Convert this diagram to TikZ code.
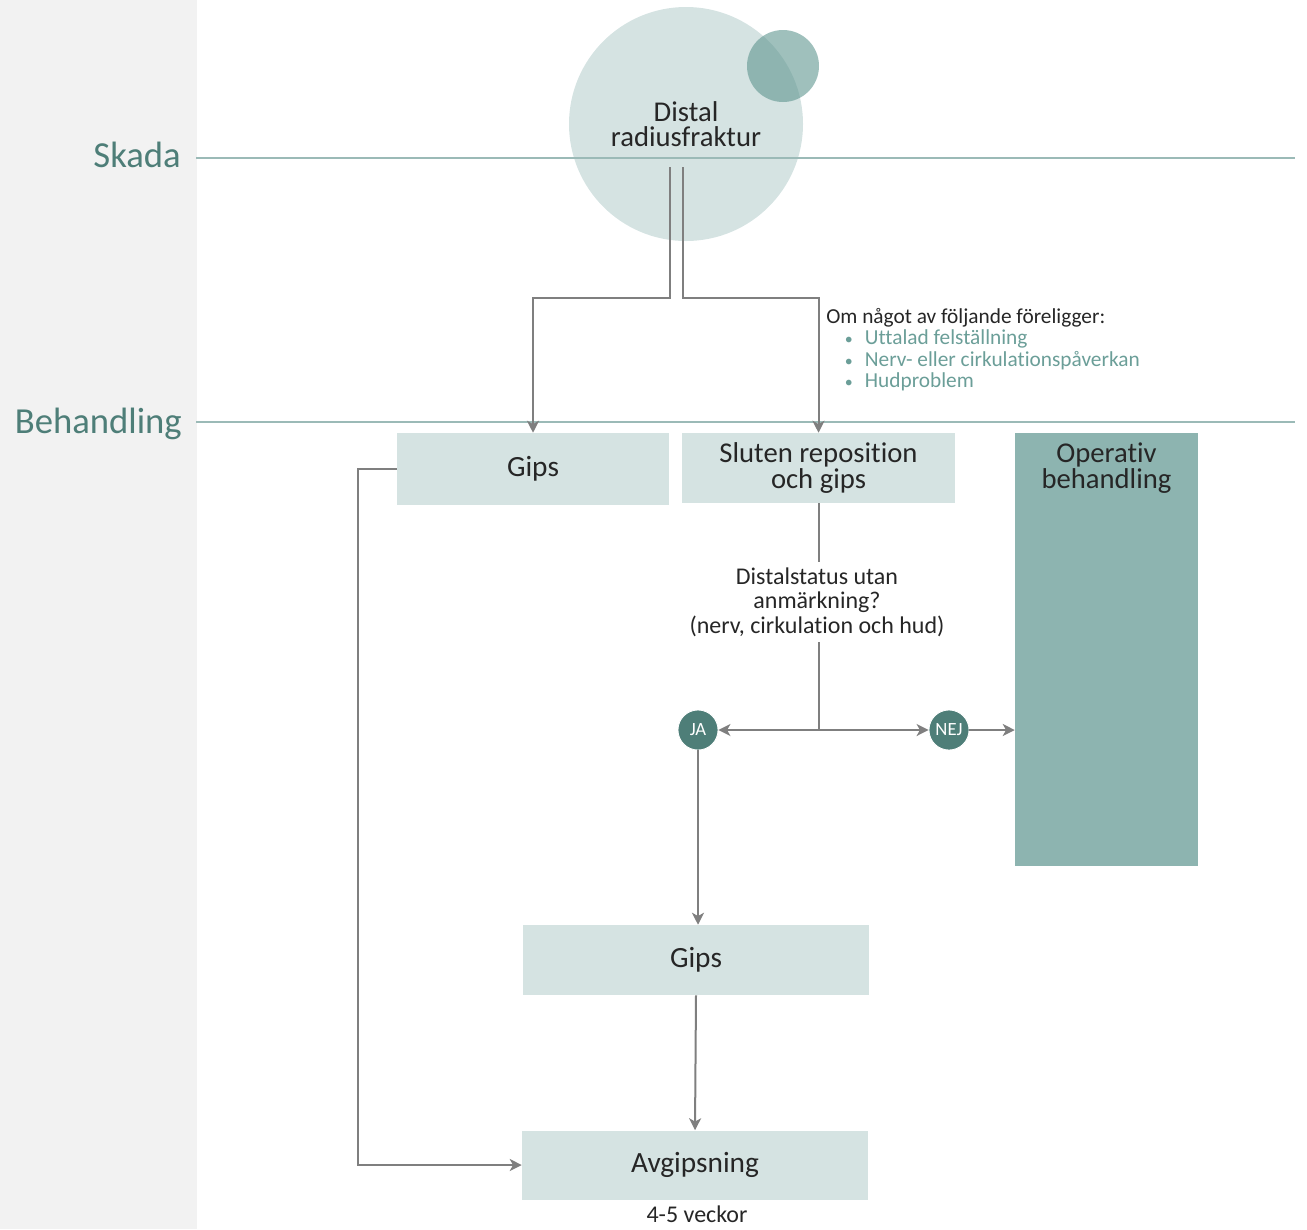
\documentclass[tikz,border=0pt]{standalone}
\usepackage{fontspec}
\setmainfont{Carlito}[Ligatures=NoCommon]
\usetikzlibrary{arrows.meta,calc}
\definecolor{panel}{HTML}{F2F2F2}
\definecolor{lightbox}{HTML}{D5E3E2}
\definecolor{midteal}{HTML}{8DB4B0}
\definecolor{darkteal}{HTML}{4E7E78}
\definecolor{smallc}{HTML}{5F9690}
\definecolor{rule}{HTML}{9BBAB7}
\definecolor{conn}{HTML}{7F7F7F}
\definecolor{listc}{HTML}{6B9E98}
\definecolor{txt}{HTML}{262626}
\newcommand\myfs[2]{\fontsize{#1}{#2}\selectfont}
\tikzset{
  lightrect/.style={rectangle, fill=lightbox, inner sep=0pt, text=txt, align=center},
  arr/.style={draw=conn, line width=1.5pt, -{Stealth[length=9pt,width=9pt,inset=2.5pt]}},
  plain/.style={draw=conn, line width=1.5pt},
  rowlabel/.style={anchor=east, text=darkteal, font=\myfs{27.5}{30}, inner sep=0pt},
  yn/.style={circle, fill=darkteal, draw=white, line width=0.6pt, minimum size=30pt, inner sep=0pt, text=white, font=\myfs{14}{15}},
}
\begin{document}
\begin{tikzpicture}[x=0.75pt,y=-0.75pt]
\useasboundingbox (0,0) rectangle (1307,1229);
\fill[panel] (0,0) rectangle (197,1229);
% circles
\node[circle, fill=lightbox, minimum size=175.5pt, inner sep=0pt, text=txt, align=center, font=\myfs{21.5}{19}] (dist) at (686,124) {Distal\\radiusfraktur};
\node[circle, fill=smallc, fill opacity=0.6, minimum size=54pt, inner sep=0pt] (small) at (783,66) {};
% rules
\draw[rule, line width=1.1pt] (196,158) -- (1295,158);
\draw[rule, line width=1.1pt] (196,422) -- (1295,422);
\node[rowlabel] (skada) at (181,155) {Skada};
\node[rowlabel] (beh) at (182,424) {Behandling};
% boxes
\node[lightrect, minimum width=204pt, minimum height=54pt, font=\myfs{22}{19}] (g1) at (533,469) {Gips};
\node[lightrect, minimum width=204.75pt, minimum height=52.5pt, font=\myfs{21.5}{19}] (sl) at (818.5,468) {Sluten reposition\\och gips};
\node[rectangle, fill=midteal, minimum width=137.25pt, minimum height=324.75pt, inner sep=0pt] (op) at (1106.5,649.5) {};
\node[anchor=north, text=txt, align=center, font=\myfs{21.5}{19}, inner sep=0pt] (optext) at (1106.5,443) {Operativ\\behandling};
\node[lightrect, minimum width=259.5pt, minimum height=52.5pt, font=\myfs{22}{19}] (g2) at (696,960) {Gips};
\node[lightrect, minimum width=259.5pt, minimum height=51.75pt, font=\myfs{22}{19}] (avg) at (695,1165) {Avgipsning};
\node[anchor=north, text=txt, font=\myfs{18}{20}, inner sep=0pt] (weeks) at (697,1206) {4-5 veckor};
% condition list
\node[anchor=north west, text=txt, align=left, font=\myfs{16}{16}, inner sep=0pt] (cond) at (826,308)
 {Om något av följande föreligger:\\
  \hspace*{14pt}\textcolor{listc}{{\myfs{12}{16}•}\hspace{9pt}Uttalad felställning}\\
  \hspace*{14pt}\textcolor{listc}{{\myfs{12}{16}•}\hspace{9pt}Nerv- eller cirkulationspåverkan}\\
  \hspace*{14pt}\textcolor{listc}{{\myfs{12}{16}•}\hspace{9pt}Hudproblem}};
% question
\node[text=txt, align=center, font=\myfs{18}{18.4}, inner sep=4pt] (q) at (817,602) {Distalstatus utan\\anmärkning?\\(nerv, cirkulation och hud)};
% yes/no
\node[yn] (ja) at (698,730) {JA};
\node[yn] (nej) at (949,730) {NEJ};
% coordinates
\coordinate (s1) at (670,167);
\coordinate (s2) at (683,167);
\coordinate (split) at (0,298);
\coordinate (junc) at (819,730);
\coordinate (lft) at (358,0);
% connectors
\draw[arr] (s1) -- (s1 |- split) -| (g1.north);
\draw[arr] (s2) -- (s2 |- split) -| (sl.north);
\draw[plain] (sl.south -| junc) -- (q.north -| junc);
\draw[plain] (q.south -| junc) -- (junc);
\draw[arr] (junc) -- (ja.east);
\draw[arr] (junc) -- (nej.west);
\draw[arr] (nej.east) -- (nej.east -| op.west);
\draw[arr] (ja.south) -- (ja.south |- g2.north);
\draw[arr] (g2.south) -- (avg.north);
\draw[arr] (g1.west) -- (g1.west -| lft) |- (avg.west);
\end{tikzpicture}
\end{document}
